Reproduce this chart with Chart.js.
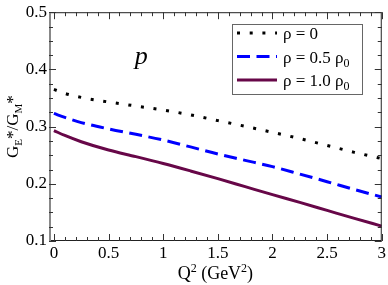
<!DOCTYPE html>
<html>
<head>
<meta charset="utf-8">
<script src="https://cdn.jsdelivr.net/npm/chart.js@4.4.1/dist/chart.umd.min.js"></script>
<style>
  body { margin: 0; background: #fff; }
  canvas { display: block; }
</style>
</head>
<body>
<canvas id="chart" width="388" height="285"></canvas>
<script>
// --- DATA ---
const q2 = [0, 0.1, 0.25, 0.5, 0.75, 1, 1.25, 1.5, 1.75, 2, 2.25, 2.5, 2.75, 3];
const rho0 = [0.365, 0.358, 0.351, 0.343, 0.336, 0.329, 0.3205, 0.3105, 0.3005, 0.290, 0.279, 0.267, 0.255, 0.244];
const rhoHalf = [0.323, 0.316, 0.307, 0.296, 0.2865, 0.2765, 0.2645, 0.252, 0.241, 0.230, 0.217, 0.2037, 0.190, 0.177];
const rhoFull = [0.293, 0.2845, 0.2735, 0.259, 0.2475, 0.2355, 0.2225, 0.209, 0.195, 0.181, 0.1675, 0.1535, 0.1395, 0.126];

const xTicks = [0, 0.5, 1, 1.5, 2, 2.5, 3];
const xTickLabels = ['0', '0.5', '1', '1.5', '2', '2.5', '3'];
const yTicks = [0.1, 0.2, 0.3, 0.4, 0.5];
const yTickLabels = ['0.1', '0.2', '0.3', '0.4', '0.5'];

const legendLabels = [['ρ = 0', ''], ['ρ = 0.5 ρ', '0'], ['ρ = 1.0 ρ', '0']];

const SERIF = '"Liberation Serif", "DejaVu Serif", serif';
const colors = { dot: '#000000', dash: '#0000ff', solid: '#670748' };

function toPoints(ys) {
    return q2.map((x, i) => ({ x: x, y: ys[i] }));
}

// draw a run of text pieces: [text, size, yOffset]
function drawPieces(ctx, pieces, x, y, align) {
    let total = 0;
    pieces.forEach(p => {
        ctx.font = p[1] + 'px ' + SERIF;
        total += ctx.measureText(p[0]).width;
    });
    let cx = align === 'center' ? x - total / 2 : x;
    ctx.textAlign = 'left';
    ctx.textBaseline = 'alphabetic';
    pieces.forEach(p => {
        ctx.font = p[1] + 'px ' + SERIF;
        ctx.fillText(p[0], cx, y + p[2]);
        cx += ctx.measureText(p[0]).width;
    });
}

// frame, inward ticks, titles, legend box and the "p" label
const decorPlugin = {
    id: 'decor',
    afterDraw(chart) {
        const ctx = chart.ctx;
        const a = chart.chartArea;
        const xs = chart.scales.x, ys = chart.scales.y;
        ctx.save();

        // frame
        ctx.strokeStyle = '#222';
        ctx.lineWidth = 1;
        ctx.strokeRect(a.left + 0.5, a.top + 0.5, a.right - a.left - 1, a.bottom - a.top - 1);
        ctx.strokeStyle = '#888';
        ctx.lineWidth = 2;
        ctx.beginPath();
        ctx.moveTo(a.left + 1, a.top);
        ctx.lineTo(a.left + 1, a.bottom);
        ctx.stroke();

        // ticks
        ctx.strokeStyle = '#333';
        ctx.lineWidth = 1;
        ctx.beginPath();
        for (let i = 0; i <= 30; i++) {
            const v = i * 0.1;
            const px = Math.round(xs.getPixelForValue(v)) + 0.5;
            const len = (i % 5 === 0) ? 7 : 4;
            ctx.moveTo(px, a.bottom); ctx.lineTo(px, a.bottom - len);
            ctx.moveTo(px, a.top); ctx.lineTo(px, a.top + len);
        }
        for (let i = 0; i <= 16; i++) {
            const v = 0.1 + i * 0.025;
            const py = Math.round(ys.getPixelForValue(v)) + 0.5;
            const len = (i % 4 === 0) ? 7 : 4;
            ctx.moveTo(a.left, py); ctx.lineTo(a.left + len, py);
            ctx.moveTo(a.right, py); ctx.lineTo(a.right - len, py);
        }
        ctx.stroke();

        ctx.fillStyle = '#000';

        // x title
        drawPieces(ctx, [['Q', 18, 0], ['2', 12, -7], [' (GeV', 18, 0], ['2', 12, -7], [')', 18, 0]],
            (a.left + a.right) / 2, 279, 'center');

        // y title, rotated
        ctx.save();
        ctx.translate(18, (a.top + a.bottom) / 2);
        ctx.rotate(-Math.PI / 2);
        drawPieces(ctx, [['G', 17, 0], ['E', 11, 4], ['*', 17, 0], ['/G', 17, 0], ['M', 11, 4], ['*', 17, 0]],
            0, 0, 'center');
        ctx.restore();

        // "p" label
        ctx.font = 'italic 26px ' + SERIF;
        ctx.textAlign = 'center';
        ctx.textBaseline = 'alphabetic';
        ctx.fillText('p', xs.getPixelForValue(0.8), ys.getPixelForValue(0.41));

        // legend
        const lx = 232, ly = 24, lw = 130, lh = 70;
        ctx.fillStyle = '#fff';
        ctx.fillRect(lx, ly, lw, lh);
        ctx.strokeStyle = '#666';
        ctx.lineWidth = 1;
        ctx.strokeRect(lx + 0.5, ly + 0.5, lw, lh);
        const rows = [33, 56.5, 80];
        chart.data.datasets.forEach((ds, i) => {
            ctx.strokeStyle = ds.borderColor;
            ctx.lineWidth = ds.borderWidth;
            ctx.setLineDash(ds.borderDash || []);
            ctx.beginPath();
            ctx.moveTo(237, rows[i]);
            ctx.lineTo(277, rows[i]);
            ctx.stroke();
            ctx.setLineDash([]);
            ctx.fillStyle = '#000';
            drawPieces(ctx, [[legendLabels[i][0], 17, 0], [legendLabels[i][1], 12, 4]], 283, rows[i] + 6, 'left');
        });

        ctx.restore();
    }
};

const chart = new Chart(document.getElementById('chart').getContext('2d'), {
    type: 'line',
    data: {
        datasets: [
            { label: 'rho = 0', data: toPoints(rho0), borderColor: colors.dot, borderWidth: 3, borderDash: [3, 9.7] },
            { label: 'rho = 0.5 rho0', data: toPoints(rhoHalf), borderColor: colors.dash, borderWidth: 3, borderDash: [13, 6.5] },
            { label: 'rho = 1.0 rho0', data: toPoints(rhoFull), borderColor: colors.solid, borderWidth: 3 }
        ]
    },
    options: {
        responsive: false,
        animation: false,
        parsing: false,
        elements: { point: { radius: 0 }, line: { cubicInterpolationMode: 'monotone', fill: false } },
        layout: { padding: { top: 6, right: 5, left: 0, bottom: 0 } },
        plugins: { legend: { display: false }, tooltip: { enabled: false } },
        scales: {
            x: {
                type: 'linear',
                min: -0.045,
                max: 3,
                grid: { display: false, drawTicks: false },
                border: { display: false },
                afterBuildTicks: scale => { scale.ticks = xTicks.map(v => ({ value: v })); },
                afterFit: scale => { scale.height = 44; },
                ticks: {
                    color: '#000',
                    font: { family: SERIF, size: 17 },
                    padding: 2,
                    maxRotation: 0,
                    callback: (v, i) => xTickLabels[i]
                }
            },
            y: {
                min: 0.1,
                max: 0.5,
                grid: { display: false, drawTicks: false },
                border: { display: false },
                afterBuildTicks: scale => { scale.ticks = yTicks.map(v => ({ value: v })); },
                afterFit: scale => { scale.width = 49; },
                ticks: {
                    color: '#000',
                    font: { family: SERIF, size: 17 },
                    padding: 2,
                    callback: (v, i) => yTickLabels[i]
                }
            }
        }
    },
    plugins: [decorPlugin]
});
</script>
</body>
</html>
